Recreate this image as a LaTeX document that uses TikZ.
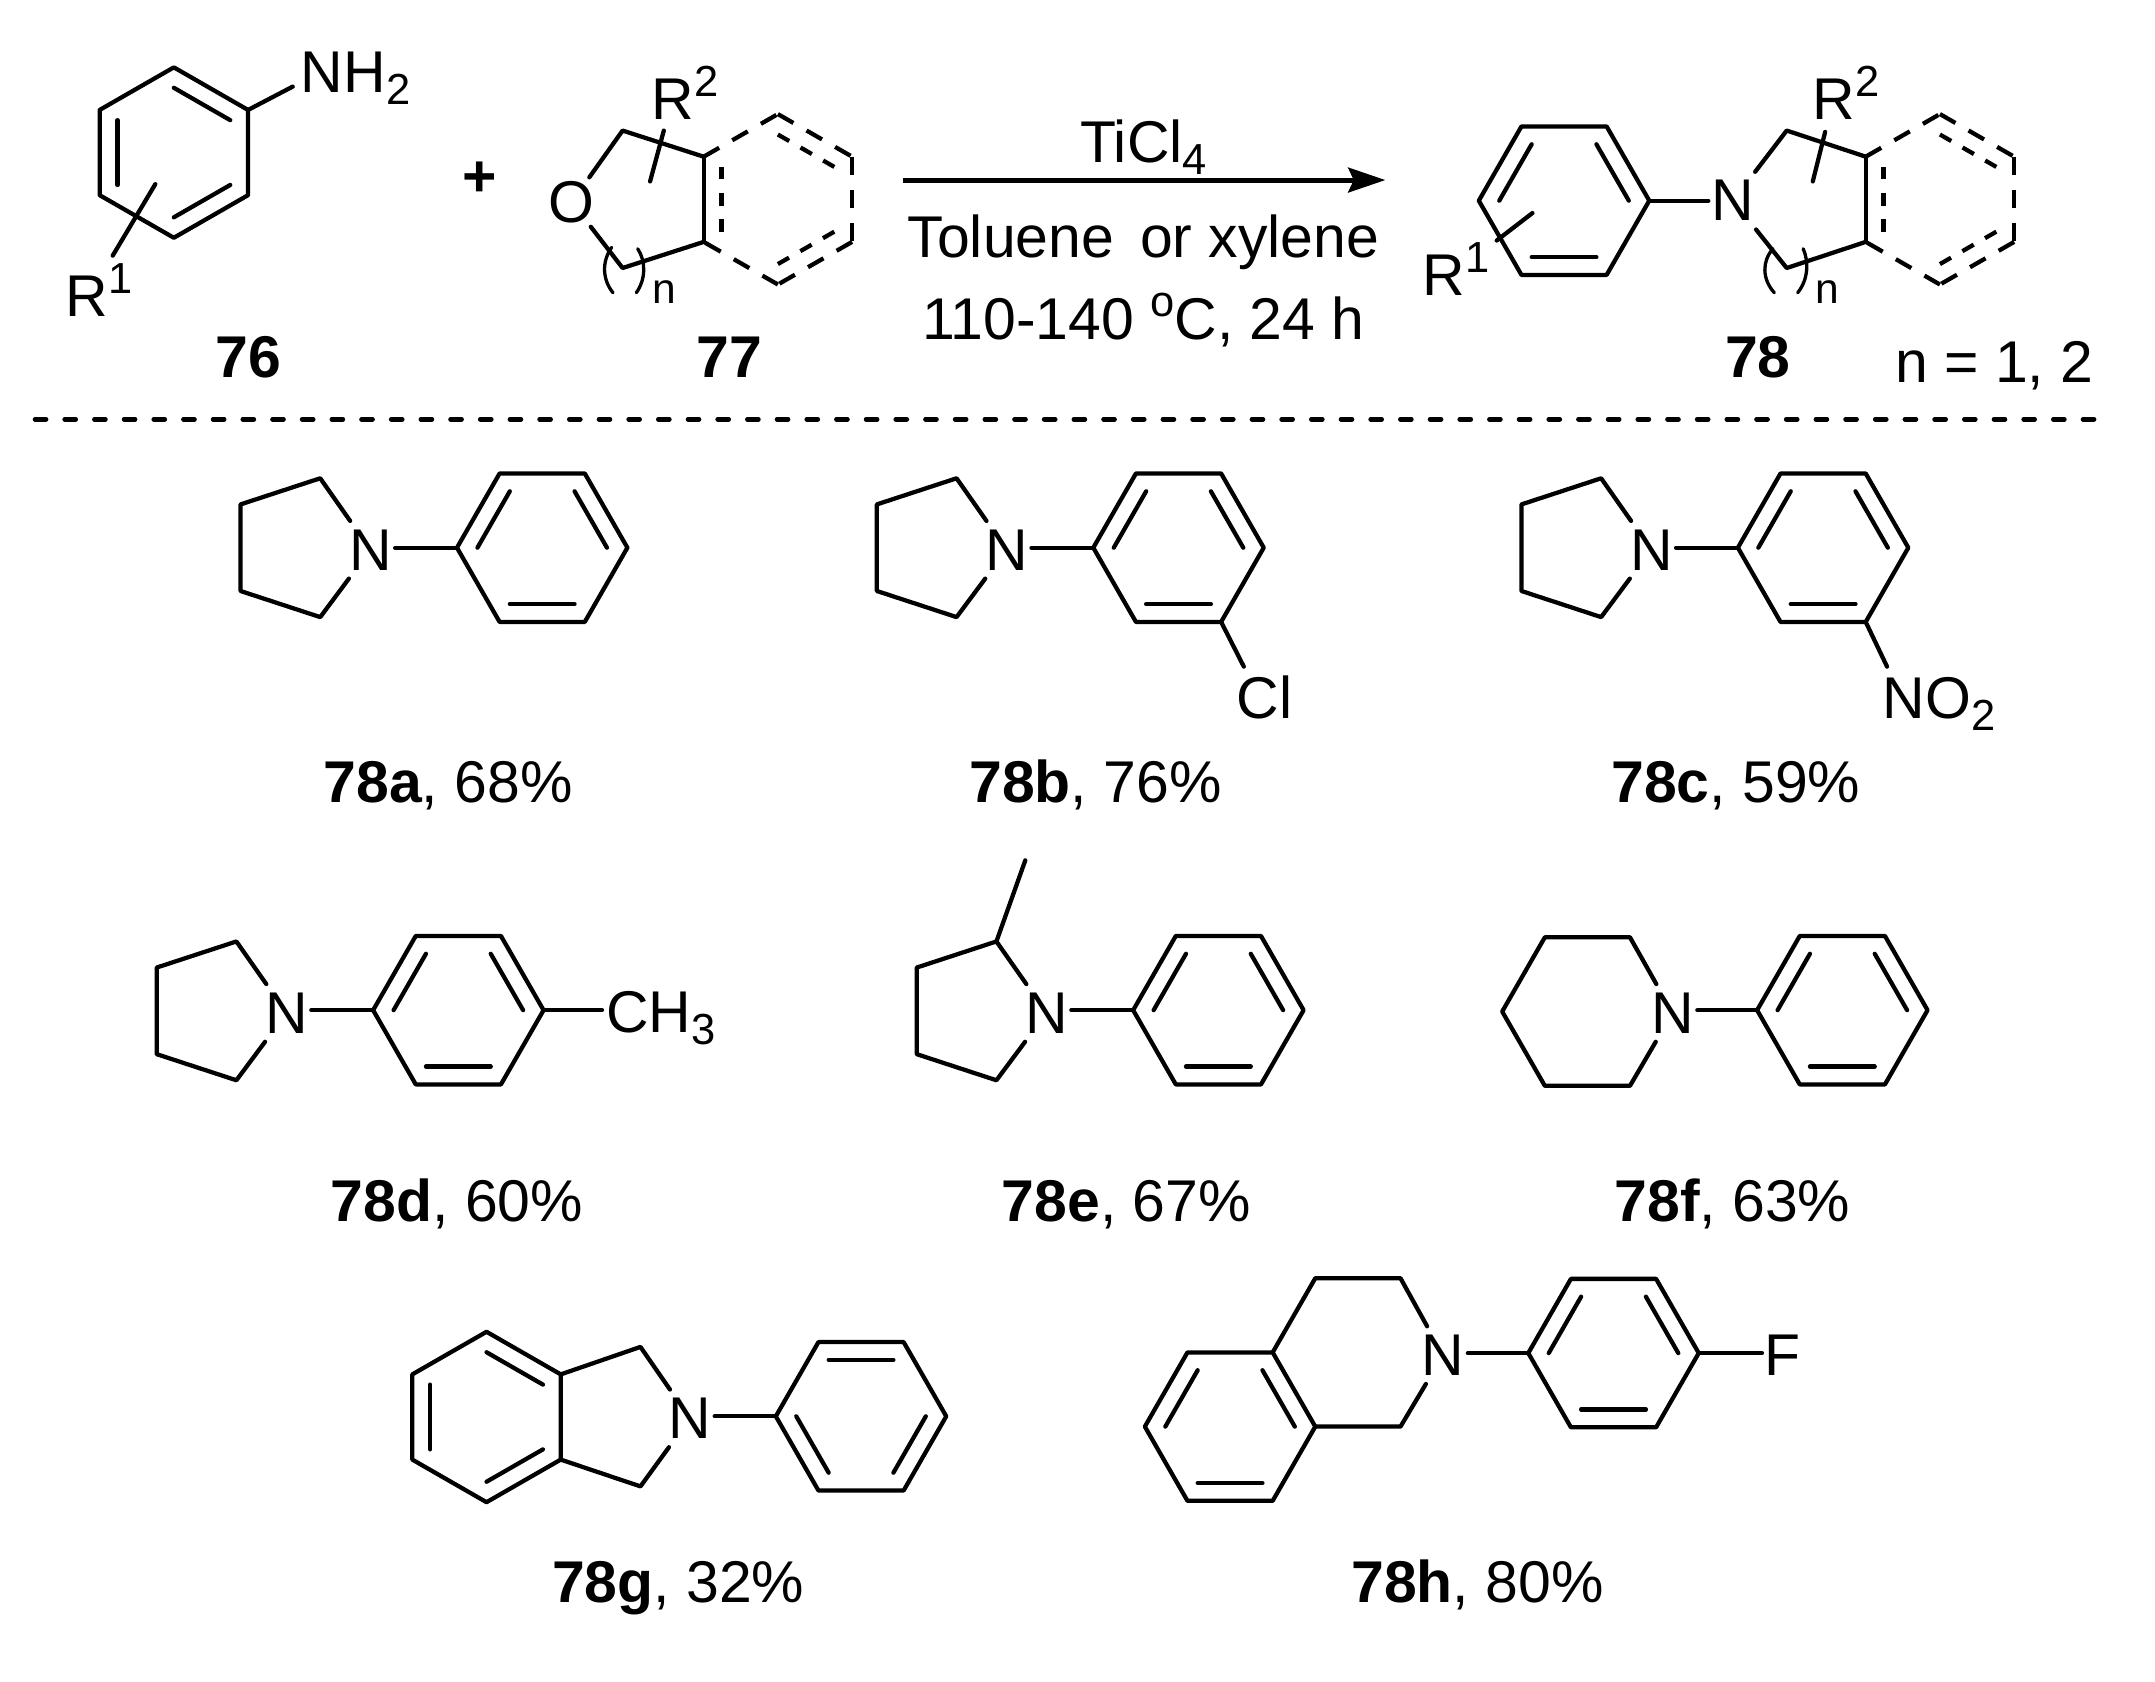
\documentclass[tikz,border=0pt]{standalone}
\usepackage{fontspec}
\setmainfont{Liberation Sans}
\usetikzlibrary{calc,arrows.meta}
\newcommand\fm{\fontsize{24.4}{28}\selectfont}
\newcommand\fs{\fontsize{18}{20}\selectfont}
\newcommand\sbs[1]{\raisebox{-0.18cm}{\fs #1}}
\newcommand\sps[1]{\raisebox{0.33cm}{\fs #1}}
\tikzset{
  bond/.style={line width=0.062cm,line cap=round,line join=round,black},
  thin bond/.style={line width=0.048cm,line cap=round,black},
  atom/.style={font=\fm,inner sep=0pt,outer sep=0pt,minimum width=0.72cm,minimum height=0.84cm},
  oxatom/.style={atom,minimum height=0.72cm},
  lab/.style={font=\fm,inner sep=0pt,outer sep=0pt,anchor=base west},
  capt/.style={font=\fm,inner sep=0pt,outer sep=0pt,anchor=base},
  dashbond/.style={bond,line cap=butt,dash pattern=on 0.26cm off 0.22cm},
  dashinner/.style={bond,line cap=butt,dash pattern=on 0.19cm off 0.19cm},
  sepline/.style={line width=0.068cm,line cap=round,dash pattern=on 0.16cm off 0.272cm},
  rxn/.style={line width=0.072cm,-{Stealth[length=0.54cm,width=0.36cm,inset=0.08cm]}}
}
% flat-topped hexagon: 1 left, 2 upper left, 3 upper right, 4 right, 5 lower right, 6 lower left
\newcommand\hexco[3]{%
  \coordinate (#10) at (#2,#3);
  \coordinate (#11) at ($(#10)+(-62,0)$);
  \coordinate (#12) at ($(#10)+(-31,-54)$);
  \coordinate (#13) at ($(#10)+(31,-54)$);
  \coordinate (#14) at ($(#10)+(62,0)$);
  \coordinate (#15) at ($(#10)+(31,54)$);
  \coordinate (#16) at ($(#10)+(-31,54)$);
}
% point-topped hexagon: 1 top, 2 upper right, 3 lower right, 4 bottom, 5 lower left, 6 upper left
\newcommand\hexpt[3]{%
  \coordinate (#10) at (#2,#3);
  \coordinate (#11) at ($(#10)+(0,-62)$);
  \coordinate (#12) at ($(#10)+(54,-31)$);
  \coordinate (#13) at ($(#10)+(54,31)$);
  \coordinate (#14) at ($(#10)+(0,62)$);
  \coordinate (#15) at ($(#10)+(-54,31)$);
  \coordinate (#16) at ($(#10)+(-54,-31)$);
}
\newcommand\ringline[1]{\draw[bond] (#11)--(#12)--(#13)--(#14)--(#15)--(#16)--cycle;}
\newcommand\db[3]{\draw[bond] ($(#1#2)!0.24!(#10)$)--($(#1#3)!0.24!(#10)$);}
\newcommand\dbthree[1]{\db{#1}{1}{2}\db{#1}{3}{4}\db{#1}{5}{6}}
\newcommand\phenyl[3]{\hexco{#1}{#2}{#3}\ringline{#1}\dbthree{#1}}
% partially unsaturated fused ring, drawn dashed
\newcommand\dashring[3]{%
  \hexpt{#1}{#2}{#3}
  \draw[bond] (#15)--(#16);
  \draw[dashbond] (#16)--(#11);
  \draw[dashbond] (#11)--(#12);
  \draw[dashbond] (#12)--(#13);
  \draw[dashbond] (#13)--(#14);
  \draw[dashbond] (#14)--(#15);
  \draw[dashinner] ($(#15)!0.24!(#10)$)--($(#16)!0.24!(#10)$);
  \draw[dashinner] ($(#11)!0.24!(#10)$)--($(#12)!0.24!(#10)$);
  \draw[dashinner] ($(#13)!0.24!(#10)$)--($(#14)!0.24!(#10)$);
}
\begin{document}
\begin{tikzpicture}[x=0.02cm,y=-0.02cm]
\useasboundingbox[fill=white] (0,0) rectangle (1568,1223.8);

% ---------- 76
\hexpt{s}{126.5}{111}
\ringline{s}\dbthree{s}
\node[lab] (nh) at (219,67) {NH\sbs{2}};
\coordinate (nhe) at (213,63);
\draw[bond] (s2)--(nhe);
\coordinate (ra) at (113,134);
\coordinate (rb) at (82,186);
\draw[bond] (ra)--(rb);
\node[lab] (r1a) at (48,230) {R\sps{1}};
\node[capt,font=\fm\bfseries] (l76) at (180.6,275) {76};
\node[capt,font=\fm\bfseries] (plus) at (349,143) {+};

% ---------- 77
\dashring{f}{566}{145}
\node[oxatom] (ox) at (416,147) {O};
\coordinate (o1) at (453,95);
\coordinate (o2) at (453,195);
\draw[bond] (ox)--(o1)--(f6);
\draw[bond] (ox)--(o2)--(f5);
\coordinate (rc) at (483,95);
\coordinate (rd) at (473,132);
\draw[bond] (rc)--(rd);
\node[lab] (r2a) at (474,87) {R\sps{2}};
\coordinate (pa1) at (445,180);\coordinate (pa2) at (446,213);
\coordinate (pb1) at (464,181);\coordinate (pb2) at (463,213);
\draw[thin bond] (pa1) .. controls (438,190) and (438,203) .. (pa2);
\draw[thin bond] (pb1) .. controls (470,190) and (470,203) .. (pb2);
\node[lab,font=\fontsize{17.6}{20}\selectfont] (n77) at (475,221) {n};
\node[capt,font=\fm\bfseries] (l77) at (530.8,275) {77};

% ---------- arrow
\coordinate (aw) at (657,131);
\coordinate (ae) at (1008,131);
\draw[rxn] (aw)--(ae);
\node[capt] (cond1) at (832,118) {TiCl\sbs{4}};
\node[capt] (cond2) at (832,187) {Toluene\, or xylene};
\node[capt] (cond3) at (832,247) {110-140 \sps{o}C, 24 h};

% ---------- 78
\phenyl{t}{1138}{146}
\node[atom] (nt) at (1261,146) {N};
\draw[bond] (t4)--(nt);
\dashring{g}{1411.5}{145}
\coordinate (t1x) at (1300,95);
\coordinate (t2x) at (1300,195);
\draw[bond] (nt)--(t1x)--(g6);
\draw[bond] (nt)--(t2x)--(g5);
\coordinate (re) at (1328,96);
\coordinate (rf) at (1319,132);
\draw[bond] (re)--(rf);
\node[lab] (r2b) at (1319,87) {R\sps{2}};
\coordinate (rg) at (1115,155);
\coordinate (rh) at (1089,175);
\draw[bond] (rg)--(rh);
\node[lab] (r1b) at (1035,215) {R\sps{1}};
\coordinate (pc1) at (1290,181);\coordinate (pc2) at (1291,213);
\coordinate (pd1) at (1312,181);\coordinate (pd2) at (1308,213);
\draw[thin bond] (pc1) .. controls (1282,190) and (1282,203) .. (pc2);
\draw[thin bond] (pd1) .. controls (1316,190) and (1316,203) .. (pd2);
\node[lab,font=\fontsize{17.6}{20}\selectfont] (n78) at (1321,221) {n};
\node[capt,font=\fm\bfseries] (l78) at (1279,275) {78};
\node[lab] (nn) at (1379,278) {n = 1, 2};

% ---------- separator
\coordinate (sepw) at (25.5,305);
\coordinate (sepe) at (1527,305);
\draw[sepline] (sepw)--(sepe);

% ---------- 78a
\phenyl{a}{394.5}{398.5}
\node[atom] (na) at (269.5,400) {N};
\coordinate (a11) at (233,348);\coordinate (a12) at (175,367);
\coordinate (a13) at (175,430);\coordinate (a14) at (233,449);
\draw[bond] (na)--(a11)--(a12)--(a13)--(a14)--(na);
\draw[bond] (na.east |- a1)--(a1);
\node[capt] (la) at (326,584) {\textbf{78a}, 68\%};

% ---------- 78b
\phenyl{b}{857.5}{398.5}
\node[atom] (nb) at (732.5,400) {N};
\coordinate (b11) at (696,348);\coordinate (b12) at (638,367);
\coordinate (b13) at (638,430);\coordinate (b14) at (696,449);
\draw[bond] (nb)--(b11)--(b12)--(b13)--(b14)--(nb);
\draw[bond] (nb.east |- b1)--(b1);
\coordinate (bcl) at (905,485);
\draw[bond] (b5)--(bcl);
\node[lab] (cl) at (900,523) {Cl};
\node[capt] (lb) at (797,584) {\textbf{78b}, 76\%};

% ---------- 78c
\phenyl{c}{1326.5}{398.5}
\node[atom] (nc) at (1201.5,400) {N};
\coordinate (c11) at (1165,348);\coordinate (c12) at (1107,367);
\coordinate (c13) at (1107,430);\coordinate (c14) at (1165,449);
\draw[bond] (nc)--(c11)--(c12)--(c13)--(c14)--(nc);
\draw[bond] (nc.east |- c1)--(c1);
\coordinate (cno) at (1373,485);
\draw[bond] (c5)--(cno);
\node[lab] (no) at (1370,522.5) {NO\sbs{2}};
\node[capt] (lc) at (1263,584) {\textbf{78c}, 59\%};

% ---------- 78d
\phenyl{d}{333.5}{735}
\node[atom] (nd) at (208.5,737) {N};
\coordinate (d11) at (172,685);\coordinate (d12) at (114,704);
\coordinate (d13) at (114,767);\coordinate (d14) at (172,786);
\draw[bond] (nd)--(d11)--(d12)--(d13)--(d14)--(nd);
\draw[bond] (nd.east |- d1)--(d1);
\coordinate (dch) at (438,735);
\draw[bond] (d4)--(dch);
\node[lab] (ch) at (441,751) {CH\sbs{3}};
\node[capt] (ld) at (332.5,889) {\textbf{78d}, 60\%};

% ---------- 78e
\phenyl{e}{886.5}{735}
\node[atom] (ne) at (761.5,737) {N};
\coordinate (e11) at (725,685);\coordinate (e12) at (667,704);
\coordinate (e13) at (667,767);\coordinate (e14) at (725,786);
\coordinate (eme) at (746,626);
\draw[bond] (ne)--(e11)--(e12)--(e13)--(e14)--(ne);
\draw[bond] (e11)--(eme);
\draw[bond] (ne.east |- e1)--(e1);
\node[capt] (le) at (819.5,889) {\textbf{78e}, 67\%};

% ---------- 78f
\phenyl{h}{1340.5}{735}
\node[atom] (nf) at (1217,737) {N};
\coordinate (f11) at (1186,682);\coordinate (f12) at (1124,682);
\coordinate (f13) at (1093,736);\coordinate (f14) at (1124,790);
\coordinate (f15) at (1186,790);
\draw[bond] (nf)--(f11)--(f12)--(f13)--(f14)--(f15)--(nf);
\draw[bond] (nf.east |- h1)--(h1);
\node[capt] (lf) at (1260.5,889) {\textbf{78f}, 63\%};

% ---------- 78g
\hexpt{i}{354}{1031}
\ringline{i}\dbthree{i}
\hexco{j}{626.5}{1030.5}
\ringline{j}
\db{j}{2}{3}\db{j}{4}{5}\db{j}{6}{1}
\node[atom] (ng) at (502,1032) {N};
\coordinate (g1x) at (466,980);\coordinate (g2x) at (466,1081.5);
\draw[bond] (i2)--(g1x)--(ng)--(g2x)--(i3);
\draw[bond] (ng.east |- j1)--(j1);
\node[capt] (lg) at (493.5,1166) {\textbf{78g}, 32\%};

% ---------- 78h
\phenyl{k}{895}{1038}
\phenyl{m}{1174}{984.5}
\node[atom] (nh2) at (1050,986) {N};
\coordinate (h1x) at (957,930);\coordinate (h2x) at (1019,930);\coordinate (h3x) at (1019,1038);
\draw[bond] (k3)--(h1x)--(h2x)--(nh2)--(h3x)--(k4);
\draw[bond] (nh2.east |- m1)--(m1);
\node[atom,minimum width=0.6cm] (fl) at (1297,986) {F};
\draw[bond] (m4)--(fl.west |- m4);
\node[capt] (lh) at (1075,1166) {\textbf{78h}, 80\%};
\end{tikzpicture}
\end{document}
